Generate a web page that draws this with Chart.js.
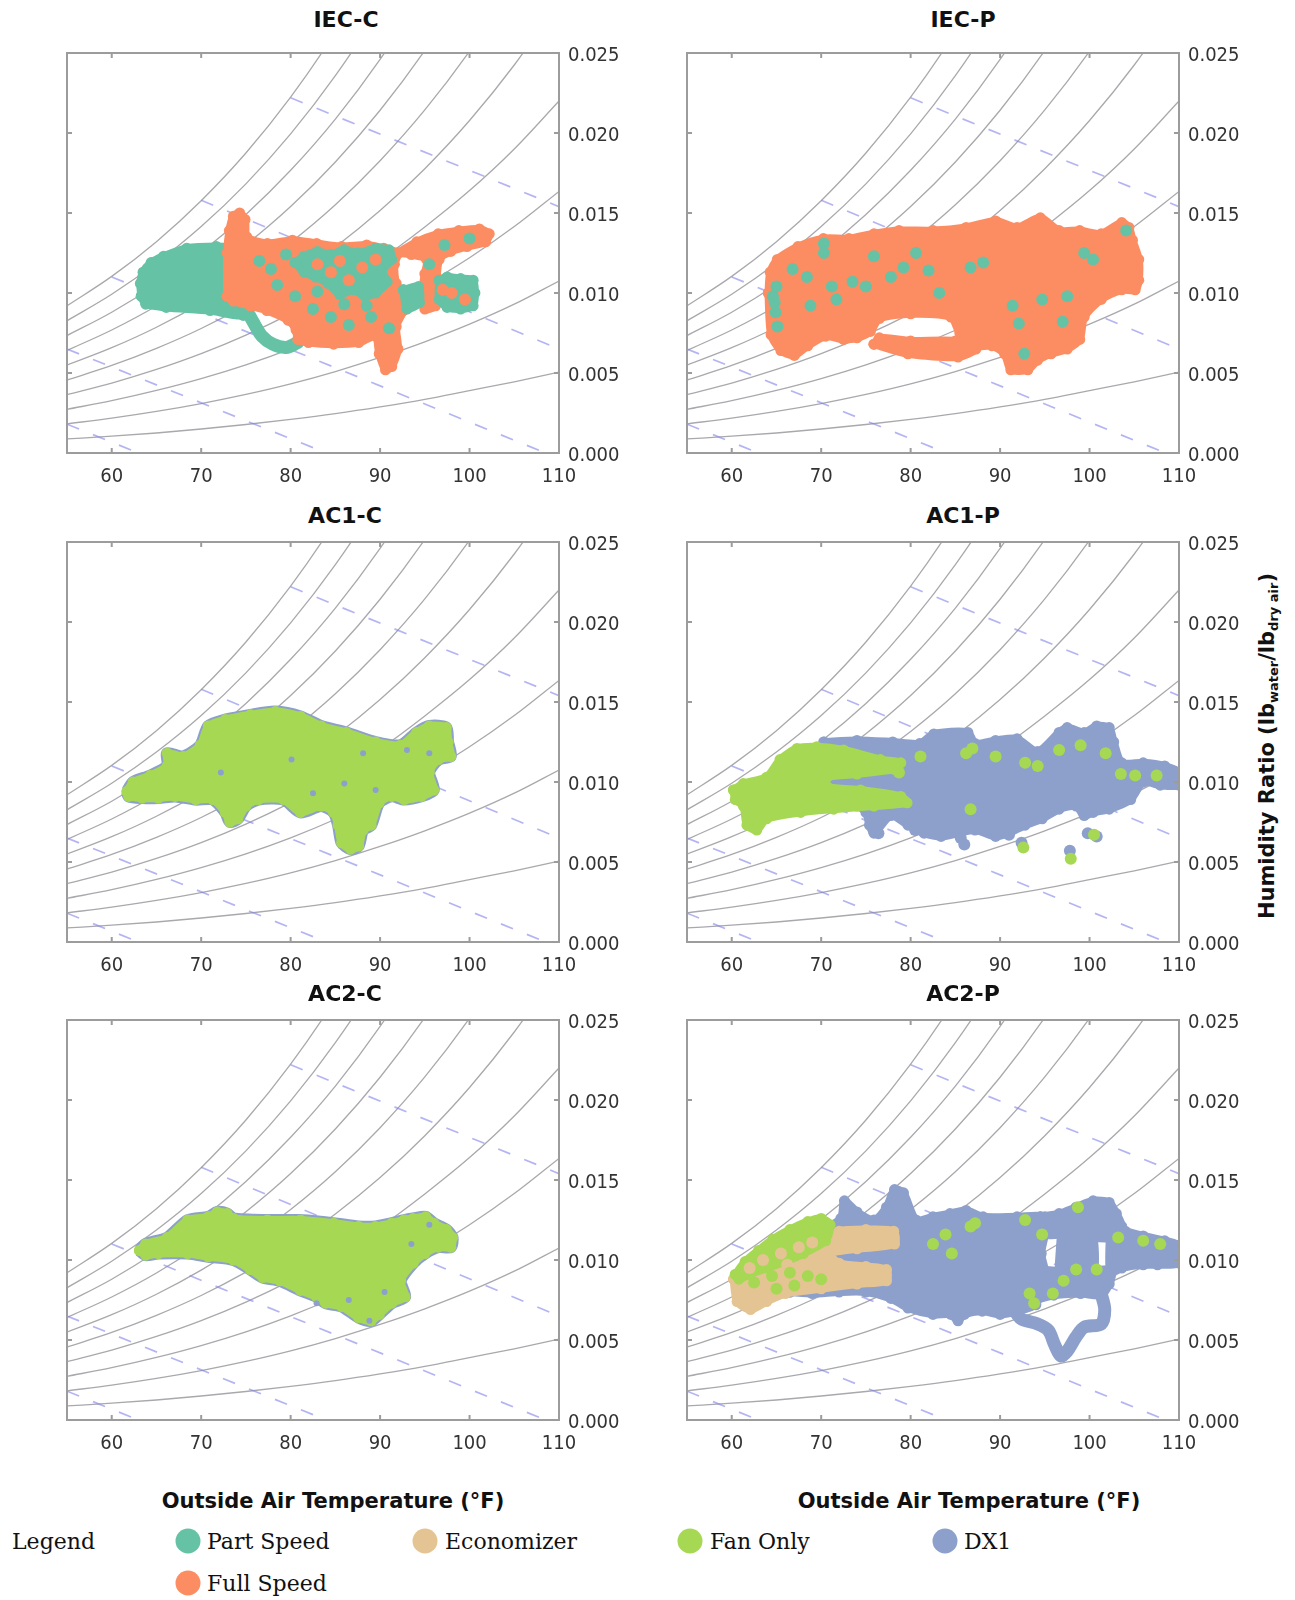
<!DOCTYPE html>
<html>
<head>
<meta charset="utf-8">
<script src="https://cdn.jsdelivr.net/npm/chart.js@4.4.0/dist/chart.umd.min.js"></script>
<style>
body { margin: 0; background: #fff; width: 1295px; height: 1600px; position: relative; overflow: hidden; }
.box { position: absolute; }
.t { position: absolute; white-space: nowrap; transform: translate(-50%, -50%); color: #111; }
.ptitle { font: bold 22px 'DejaVu Sans', sans-serif; }
.xtitle { font: bold 21px 'DejaVu Sans', sans-serif; }
.ytitle { font: bold 21px 'DejaVu Sans', sans-serif; transform: translate(-50%, -50%) rotate(-90deg); }
.ytitle sub { font-size: 13px; vertical-align: -4px; }
.leg { position: absolute; white-space: nowrap; font: 22px 'DejaVu Serif', serif; color: #111; transform: translateY(-50%); }
.dot { position: absolute; width: 25px; height: 25px; border-radius: 50%; transform: translate(-50%, -50%); }
</style>
</head>
<body>

<script>
// axes
const xTicks = [60, 70, 80, 90, 100, 110];
const yTicks = [0, 0.005, 0.010, 0.015, 0.020, 0.025];

// relative humidity curves (10% .. 100%), humidity ratio at these temperatures
const tempGrid = [55, 60, 65, 70, 75, 80, 85, 90, 95, 100, 105, 110];
const rh100 = [0.00920, 0.01104, 0.01321, 0.01577, 0.01875, 0.02224, 0.02631, 0.03105, 0.03658, 0.04300, 0.05047, 0.05916];
const rh90 = [0.00826, 0.00992, 0.01187, 0.01415, 0.01682, 0.01994, 0.02358, 0.02781, 0.03273, 0.03844, 0.04506, 0.05274];
const rh80 = [0.00734, 0.00880, 0.01053, 0.01255, 0.01491, 0.01767, 0.02087, 0.02460, 0.02892, 0.03393, 0.03973, 0.04644];
const rh70 = [0.00641, 0.00769, 0.00919, 0.01095, 0.01301, 0.01540, 0.01819, 0.02142, 0.02516, 0.02949, 0.03449, 0.04026];
const rh60 = [0.00549, 0.00658, 0.00786, 0.00937, 0.01112, 0.01316, 0.01552, 0.01827, 0.02144, 0.02511, 0.02933, 0.03419];
const rh50 = [0.00456, 0.00547, 0.00654, 0.00778, 0.00924, 0.01092, 0.01288, 0.01515, 0.01777, 0.02078, 0.02425, 0.02824];
const rh40 = [0.00365, 0.00437, 0.00522, 0.00621, 0.00737, 0.00871, 0.01026, 0.01206, 0.01413, 0.01640, 0.01900, 0.02200];
const rh30 = [0.00273, 0.00327, 0.00391, 0.00465, 0.00551, 0.00651, 0.00767, 0.00900, 0.01050, 0.01220, 0.01415, 0.01635];
const rh20 = [0.00182, 0.00218, 0.00260, 0.00309, 0.00366, 0.00432, 0.00509, 0.00597, 0.00695, 0.00805, 0.00930, 0.01075];
const rh10 = [0.00088, 0.00105, 0.00125, 0.00150, 0.00178, 0.00210, 0.00246, 0.00288, 0.00335, 0.00390, 0.00445, 0.00505];

// wet bulb lines (dashed)
const wb80 = [[80.0, 0.0222], [110, 0.0154]];
const wb70 = [[70.0, 0.0158], [110, 0.0065]];
const wb60 = [[60.0, 0.0110], [108.5, 0.0]];
const wb50 = [[55.0, 0.0065], [84.0, 0.0]];
const wb40 = [[55.0, 0.0018], [63.0, 0.0]];

// IEC-C
const iecC_partBody = [[63.3, 0.0098], [63.2, 0.0106], [63.5, 0.0113], [64.4, 0.0119], [65.8, 0.0123], [68.4, 0.0128], [71.7, 0.0129], [74.5, 0.0128], [76.0, 0.0126], [76.3, 0.0110], [76.0, 0.0095], [74.7, 0.0086], [71.0, 0.0089], [66.1, 0.0091], [63.8, 0.0093]];
const iecC_partTail = [[75.2, 0.0088], [76.0, 0.0080], [76.8, 0.0073], [78.0, 0.0068], [79.5, 0.0066], [80.8, 0.0069]];
const iecC_fullMain = [[72.9, 0.0098], [72.9, 0.0125], [73.15, 0.0139], [73.6, 0.0148], [74.3, 0.0150], [74.9, 0.0146], [75.1, 0.0135], [77.4, 0.0131], [80.2, 0.0133], [82.9, 0.0131], [85.7, 0.0129], [88.5, 0.0130], [90.4, 0.0128], [92.0, 0.0125], [91.6, 0.0118], [91.8, 0.0106], [92.6, 0.0098], [92.6, 0.0089], [91.8, 0.0079], [92.0, 0.0065], [91.3, 0.0054], [90.6, 0.0052], [89.9, 0.0062], [89.5, 0.0073], [87.6, 0.0069], [84.8, 0.0068], [82.0, 0.0069], [80.8, 0.0071], [80.6, 0.0077], [79.7, 0.0083], [77.35, 0.0089], [75.5, 0.0092], [73.6, 0.0095]];
const iecC_fullArm = [[92.0, 0.0125], [94.1, 0.0132], [96.5, 0.0137], [98.8, 0.0139], [101.1, 0.0140], [102.2, 0.0137], [101.8, 0.0132], [99.7, 0.0129], [97.9, 0.0126], [96.6, 0.0121], [96.3, 0.0105], [96.2, 0.0092], [95.0, 0.0090], [94.6, 0.0097], [95.0, 0.0112], [95.2, 0.0121], [93.5, 0.0124]];
const iecC_partMid = [[80.5, 0.0119], [81.5, 0.0123], [83.0, 0.0126], [84.5, 0.0124], [86.0, 0.0127], [87.5, 0.0125], [89.5, 0.0128], [91.0, 0.0127], [91.3, 0.0121], [90.2, 0.0114], [90.8, 0.0107], [89.5, 0.0100], [88.3, 0.0098], [87.0, 0.0102], [85.5, 0.0099], [84.2, 0.0106], [82.8, 0.0110], [81.5, 0.0113]];
const iecC_partRight = [[96.6, 0.0108], [97.5, 0.0110], [99.0, 0.0109], [100.4, 0.0108], [100.6, 0.0100], [100.4, 0.0092], [99.0, 0.0090], [97.5, 0.0091], [96.6, 0.0096]];
const iecC_partRight2 = [[92.6, 0.0102], [94.3, 0.0104], [94.4, 0.0094], [93.0, 0.0090]];
const iecC_partDots = [[76.5, 0.0120], [77.8, 0.0115], [79.5, 0.0124], [78.5, 0.0105], [80.5, 0.0098], [82.5, 0.0090], [84.5, 0.0085], [86.5, 0.0080], [88.5, 0.0092], [83.0, 0.0101], [86.0, 0.0093], [89.0, 0.0085], [91.0, 0.0078], [97.2, 0.0130], [100.0, 0.0134], [95.5, 0.0118]];
const iecC_fullDots = [[83.0, 0.0118], [85.5, 0.0120], [88.0, 0.0116], [86.5, 0.0108], [89.5, 0.0121], [84.5, 0.0113], [98.0, 0.0100], [99.5, 0.0096], [97.0, 0.0102]];

// IEC-P
const iecP_fullMain = [[64.1, 0.0100], [64.3, 0.0113], [65.1, 0.0121], [67.4, 0.0129], [70.25, 0.0134], [73.1, 0.0134], [75.9, 0.0137], [78.7, 0.0139], [82.5, 0.0139], [86.2, 0.0141], [89.5, 0.0145], [91.9, 0.0141], [94.5, 0.0147], [96.6, 0.0139], [98.9, 0.0139], [101.3, 0.0137], [103.6, 0.0144], [104.4, 0.0141], [104.8, 0.0133], [105.5, 0.0121], [105.5, 0.0108], [105.1, 0.0102], [103.6, 0.0102], [101.3, 0.0096], [99.4, 0.0085], [98.9, 0.0071], [97.5, 0.0065], [95.7, 0.0062], [94.2, 0.0058], [93.1, 0.0052], [91.2, 0.0052], [90.5, 0.0062], [89.1, 0.0067], [87.2, 0.0067], [85.5, 0.0075], [84.5, 0.0085], [80.0, 0.0087], [76.5, 0.0084], [75.5, 0.0076], [74.0, 0.0072], [72.5, 0.0071], [70.5, 0.0073], [68.5, 0.0067], [67.0, 0.0061], [65.5, 0.0064], [64.4, 0.0074]];
const iecP_fullLow = [[75.9, 0.0068], [79.7, 0.0062], [85.3, 0.0060], [87.3, 0.0065], [85.0, 0.0070], [80.0, 0.0070], [76.5, 0.0072]];
const iecP_partDots = [[64.6, 0.0098], [64.8, 0.0094], [65.0, 0.0104], [64.9, 0.0088], [65.1, 0.0079], [70.3, 0.0125], [70.3, 0.0131], [68.4, 0.0110], [71.2, 0.0104], [71.7, 0.0096], [68.8, 0.0092], [75.0, 0.0104], [75.9, 0.0123], [77.8, 0.0110], [79.2, 0.0116], [80.6, 0.0125], [82.0, 0.0114], [83.2, 0.0100], [86.7, 0.0116], [88.1, 0.0119], [91.4, 0.0092], [92.1, 0.0081], [94.7, 0.0096], [97.5, 0.0098], [97.0, 0.0082], [99.4, 0.0125], [100.4, 0.0121], [104.1, 0.0139], [92.7, 0.0062], [73.5, 0.0107], [66.8, 0.0115]];

// AC1-C
const ac1C_fanBody = [[61.7, 0.0094], [62.4, 0.0100], [64.3, 0.0104], [66.2, 0.0110], [66.2, 0.0118], [68.0, 0.0116], [69.9, 0.0123], [70.8, 0.0135], [72.7, 0.0139], [75.5, 0.0142], [78.3, 0.0144], [81.1, 0.0141], [83.4, 0.0135], [86.2, 0.0131], [89.5, 0.0125], [92.3, 0.0123], [94.1, 0.0131], [95.5, 0.0135], [97.4, 0.0134], [97.6, 0.0125], [97.9, 0.0116], [96.5, 0.0114], [95.5, 0.0106], [96.0, 0.0095], [94.6, 0.0091], [92.7, 0.0089], [91.3, 0.0091], [89.9, 0.0087], [89.0, 0.0073], [88.1, 0.0070], [87.6, 0.0060], [86.7, 0.0058], [85.7, 0.0062], [85.3, 0.0073], [84.8, 0.0081], [83.4, 0.0085], [81.1, 0.0081], [79.2, 0.0089], [76.4, 0.0089], [75.0, 0.0085], [74.1, 0.0077], [73.2, 0.0075], [72.7, 0.0081], [71.3, 0.0089], [69.4, 0.0089], [67.1, 0.0091], [65.2, 0.0090], [63.4, 0.0090], [61.9, 0.0091]];
const ac1C_dxDots = [[72.2, 0.0106], [80.1, 0.0114], [88.1, 0.0118], [82.5, 0.0093], [89.5, 0.0095], [93.0, 0.0120], [95.5, 0.0118], [86.0, 0.0099]];

// AC1-P
const ac1P_dxBody = [[70.3, 0.0125], [74.0, 0.0126], [78.0, 0.0125], [81.0, 0.0124], [82.6, 0.0130], [86.4, 0.0131], [87.2, 0.0124], [89.5, 0.0126], [91.9, 0.0127], [94.2, 0.0119], [96.6, 0.0131], [97.5, 0.0134], [99.4, 0.0131], [100.8, 0.0135], [102.2, 0.0134], [102.7, 0.0125], [103.6, 0.0112], [106.0, 0.0112], [108.4, 0.0110], [110.0, 0.0106], [110.0, 0.0098], [107.9, 0.0098], [106.0, 0.0100], [104.6, 0.0089], [102.2, 0.0083], [100.4, 0.0081], [99.4, 0.0079], [98.5, 0.0085], [96.6, 0.0083], [94.7, 0.0077], [92.8, 0.0073], [90.9, 0.0068], [89.5, 0.0066], [87.2, 0.0070], [85.3, 0.0068], [83.4, 0.0066], [81.5, 0.0068], [79.7, 0.0073], [77.8, 0.0079], [75.9, 0.0068], [75.4, 0.0073], [75.0, 0.0081], [74.0, 0.0085], [71.7, 0.0085], [70.3, 0.0089]];
const ac1P_dxLobes = [[75.6, 0.0073], [76.4, 0.0068], [80.5, 0.0070], [85.6, 0.0065], [86.0, 0.0061], [92.4, 0.0062], [97.8, 0.0057], [99.8, 0.0068], [100.8, 0.0066], [89.5, 0.0069], [91.0, 0.0067]];
const ac1P_fanBody = [[60.2, 0.0095], [61.3, 0.0099], [63.9, 0.0103], [65.4, 0.0114], [67.3, 0.0121], [69.5, 0.0122], [72.5, 0.0120], [76.6, 0.0114], [78.9, 0.0112], [78.1, 0.0108], [74.0, 0.0105], [70.7, 0.0103], [70.7, 0.0097], [74.4, 0.0095], [78.9, 0.0091], [79.6, 0.0087], [75.9, 0.0085], [71.4, 0.0083], [67.7, 0.0081], [63.9, 0.0077], [62.8, 0.0070], [61.7, 0.0073], [61.3, 0.0085], [60.4, 0.0089]];
const ac1P_fanDots = [[81.1, 0.0116], [86.2, 0.0118], [86.9, 0.0121], [89.5, 0.0116], [92.8, 0.0112], [96.6, 0.0120], [101.8, 0.0118], [105.1, 0.0104], [86.7, 0.0083], [99.0, 0.0123], [78.7, 0.0106], [94.2, 0.0110], [103.5, 0.0105], [107.5, 0.0104], [92.6, 0.0059], [97.9, 0.0052], [100.5, 0.0067]];

// AC2-C
const ac2C_fanBody = [[63.1, 0.0106], [63.8, 0.0110], [66.2, 0.0114], [68.5, 0.0125], [70.8, 0.0127], [71.8, 0.0130], [72.9, 0.0129], [73.6, 0.0126], [77.4, 0.0125], [81.1, 0.0125], [84.8, 0.0123], [87.6, 0.0121], [89.5, 0.0121], [91.3, 0.0123], [92.7, 0.0125], [93.7, 0.0126], [95.1, 0.0127], [96.0, 0.0123], [97.4, 0.0119], [98.1, 0.0114], [97.9, 0.0108], [96.5, 0.0108], [95.0, 0.0104], [93.7, 0.0098], [92.3, 0.0087], [92.8, 0.0077], [91.3, 0.0073], [89.9, 0.0066], [89.0, 0.0062], [87.6, 0.0064], [85.7, 0.0071], [83.9, 0.0073], [82.9, 0.0077], [81.1, 0.0081], [78.8, 0.0087], [76.9, 0.0089], [75.5, 0.0094], [73.6, 0.0100], [70.8, 0.0102], [68.5, 0.0104], [65.2, 0.0104], [63.8, 0.0103]];
const ac2C_dxDots = [[82.9, 0.0073], [88.8, 0.0062], [86.5, 0.0075], [90.5, 0.0080], [93.5, 0.0110], [95.5, 0.0122]];

// AC2-P
const ac2P_dxLeft = [[66.5, 0.0080], [66.5, 0.0095], [68.0, 0.0110], [70.0, 0.0118], [72.2, 0.0126], [72.6, 0.0137], [74.0, 0.0130], [75.9, 0.0125], [77.3, 0.0133], [78.2, 0.0144], [79.2, 0.0142], [80.6, 0.0125], [82.5, 0.0127], [84.4, 0.0129], [86.2, 0.0131], [88.1, 0.0127], [91.9, 0.0127], [95.0, 0.0127], [95.0, 0.0116], [94.6, 0.0104], [95.0, 0.0093], [94.5, 0.0080], [94.0, 0.0072], [92.0, 0.0068], [90.0, 0.0066], [88.0, 0.0068], [86.0, 0.0066], [85.3, 0.0062], [84.5, 0.0066], [82.5, 0.0066], [79.7, 0.0070], [77.8, 0.0076], [75.0, 0.0080], [72.0, 0.0080], [69.0, 0.0079]];
const ac2P_dxTop = [[94.5, 0.0127], [96.6, 0.0129], [98.5, 0.0133], [100.4, 0.0137], [102.2, 0.0136], [103.0, 0.0129], [103.6, 0.0121], [102.6, 0.0114], [100.0, 0.0114], [97.5, 0.0116], [95.0, 0.0116]];
const ac2P_dxBar = [[96.8, 0.0118], [100.2, 0.0118], [100.2, 0.0084], [96.8, 0.0084]];
const ac2P_dxRight = [[102.3, 0.0121], [104.0, 0.0118], [106.0, 0.0115], [108.4, 0.0112], [110.0, 0.0109], [110.0, 0.0098], [107.6, 0.0097], [106.0, 0.0097], [103.6, 0.0095], [102.3, 0.0092]];
const ac2P_dxBottom = [[94.5, 0.0094], [97.0, 0.0093], [100.0, 0.0093], [102.5, 0.0094], [102.2, 0.0085], [101.3, 0.0078], [99.0, 0.0079], [96.0, 0.0078], [94.0, 0.0076]];
const ac2P_dxLoop = [[101.3, 0.0079], [101.7, 0.0069], [101.3, 0.0060], [99.4, 0.0058], [98.5, 0.0052], [97.5, 0.0043], [96.8, 0.0040], [96.1, 0.0047], [95.4, 0.0056], [94.2, 0.0060], [92.4, 0.0063], [91.9, 0.0066]];
const ac2P_ecoBody = [[60.2, 0.0088], [61.0, 0.0091], [63.0, 0.0094], [65.5, 0.0098], [68.0, 0.0103], [70.0, 0.0111], [72.0, 0.0118], [75.0, 0.0119], [78.1, 0.0118], [78.2, 0.0110], [74.0, 0.0107], [71.0, 0.0104], [72.0, 0.0098], [75.0, 0.0096], [77.3, 0.0094], [77.3, 0.0087], [74.0, 0.0085], [70.0, 0.0082], [66.0, 0.0079], [63.9, 0.0074], [62.1, 0.0069], [60.6, 0.0074]];
const ac2P_fanBody = [[60.4, 0.0091], [61.5, 0.0099], [63.0, 0.0106], [64.6, 0.0113], [66.5, 0.0119], [68.5, 0.0124], [70.0, 0.0126], [71.0, 0.0122], [70.5, 0.0112], [68.0, 0.0104], [66.0, 0.0099], [64.0, 0.0095], [62.0, 0.0091], [60.8, 0.0088]];
const ac2P_ecoDots = [[63.5, 0.0100], [65.5, 0.0104], [67.5, 0.0108], [69.0, 0.0111], [66.2, 0.0097], [62.0, 0.0095]];
const ac2P_fanDots = [[62.5, 0.0086], [64.5, 0.0090], [66.5, 0.0092], [68.5, 0.0090], [70.0, 0.0088], [67.0, 0.0084], [65.0, 0.0082], [86.7, 0.0121], [87.2, 0.0123], [82.5, 0.0110], [84.6, 0.0104], [92.8, 0.0125], [94.7, 0.0116], [98.5, 0.0094], [97.1, 0.0087], [95.9, 0.0079], [93.3, 0.0079], [93.8, 0.0073], [103.2, 0.0114], [106.0, 0.0112], [107.9, 0.0110], [100.8, 0.0094], [98.7, 0.0133], [83.9, 0.0116]];

const COLORS = { part: '#66c2a5', full: '#fc8d62', eco: '#e5c494', fan: '#a6d854', dx1: '#8da0cb' };

const panels = [
    { name: 'IEC-C', left: 67, top: 53, tx: 346, ty: 19, layers: [
        ['blob', 'part', iecC_partBody], ['band', 'part', iecC_partTail],
        ['blob', 'full', iecC_fullMain], ['blob', 'full', iecC_fullArm],
        ['blob', 'part', iecC_partMid], ['blob', 'part', iecC_partRight], ['blob', 'part', iecC_partRight2],
        ['dots', 'full', iecC_fullDots], ['dots', 'part', iecC_partDots]] },
    { name: 'IEC-P', left: 687, top: 53, tx: 963, ty: 19, layers: [
        ['blob', 'full', iecP_fullMain], ['blob', 'full', iecP_fullLow], ['dots', 'part', iecP_partDots]] },
    { name: 'AC1-C', left: 67, top: 542, tx: 345, ty: 515, layers: [
        ['rim', 'dx1', ac1C_fanBody], ['blob', 'fan', ac1C_fanBody], ['speck', 'dx1', ac1C_dxDots]] },
    { name: 'AC1-P', left: 687, top: 542, tx: 963, ty: 515, layers: [
        ['blob', 'dx1', ac1P_dxBody], ['dots', 'dx1', ac1P_dxLobes],
        ['blob', 'fan', ac1P_fanBody], ['dots', 'fan', ac1P_fanDots]] },
    { name: 'AC2-C', left: 67, top: 1020, tx: 345, ty: 993, layers: [
        ['rim', 'dx1', ac2C_fanBody], ['blob', 'fan', ac2C_fanBody], ['speck', 'dx1', ac2C_dxDots]] },
    { name: 'AC2-P', left: 687, top: 1020, tx: 963, ty: 993, layers: [
        ['blob', 'dx1', ac2P_dxLeft], ['blob', 'dx1', ac2P_dxTop], ['blob', 'dx1', ac2P_dxBar],
        ['blob', 'dx1', ac2P_dxRight], ['blob', 'dx1', ac2P_dxBottom], ['band', 'dx1', ac2P_dxLoop],
        ['blob', 'eco', ac2P_ecoBody], ['blob', 'fan', ac2P_fanBody],
        ['dots', 'eco', ac2P_ecoDots], ['dots', 'fan', ac2P_fanDots]] }
];

const PLOT_W = 492, PLOT_H = 400, PAD = 14, YAX_W = 75, XAX_H = 40;
const TICK_FONT = "'DejaVu Sans Condensed', 'DejaVu Sans', sans-serif";

const frameBox = {
    id: 'frameBox',
    afterDatasetsDraw(chart, args, options) {
        const { ctx, chartArea: { left, top, right, bottom }, scales: { x, y } } = chart;
        ctx.save();
        ctx.strokeStyle = options.color;
        ctx.lineWidth = options.width;
        ctx.strokeRect(left, top, right - left, bottom - top);
        ctx.beginPath();
        xTicks.forEach(v => {
            const px = x.getPixelForValue(v);
            ctx.moveTo(px, bottom); ctx.lineTo(px, bottom - options.tick);
            ctx.moveTo(px, top); ctx.lineTo(px, top + options.tick);
        });
        yTicks.forEach(v => {
            const py = y.getPixelForValue(v);
            ctx.moveTo(left, py); ctx.lineTo(left + options.tick, py);
            ctx.moveTo(right, py); ctx.lineTo(right - options.tick, py);
        });
        ctx.stroke();
        ctx.restore();
    }
};

const toXY = pts => pts.map(p => ({ x: p[0], y: p[1] }));

function backgroundSets() {
    const sets = [];
    [rh10, rh20, rh30, rh40, rh50, rh60, rh70, rh80, rh90, rh100].forEach(curve => {
        sets.push({
            data: curve.map((w, i) => ({ x: tempGrid[i], y: w })),
            borderColor: '#a9a9ad', borderWidth: 1.3, pointRadius: 0,
            cubicInterpolationMode: 'monotone', fill: false, clip: 0
        });
    });
    [wb40, wb50, wb60, wb70, wb80].forEach(line => {
        sets.push({
            data: toXY(line), borderColor: 'rgba(130,130,235,0.6)', borderWidth: 1.7,
            borderDash: [13, 15], pointRadius: 0, fill: false, clip: 0
        });
    });
    return sets;
}

function layerSet(kind, key, pts) {
    const c = COLORS[key];
    if (kind === 'dots' || kind === 'speck') {
        return { data: toXY(pts), showLine: false, pointRadius: kind === 'dots' ? 6 : 3,
                 pointBackgroundColor: c, pointBorderWidth: 0, clip: 0 };
    }
    if (kind === 'band') {
        return { data: toXY(pts), borderColor: c, borderWidth: 13, borderCapStyle: 'round',
                 borderJoinStyle: 'round', tension: 0.3, pointRadius: 0, fill: false, clip: 0 };
    }
    const closed = toXY(pts.concat([pts[0]]));
    return { data: closed, fill: 'shape', backgroundColor: c, borderColor: c,
             borderWidth: kind === 'rim' ? 12 : 8, borderJoinStyle: 'round', tension: 0.25,
             pointRadius: kind === 'rim' ? 0 : 5.5, pointBackgroundColor: c, pointBorderWidth: 0, clip: 0 };
}

function addText(cls, x, y, html) {
    const d = document.createElement('div');
    d.className = cls;
    d.style.left = x + 'px';
    d.style.top = y + 'px';
    d.innerHTML = html;
    document.body.appendChild(d);
    return d;
}

panels.forEach(p => {
    addText('t ptitle', p.tx, p.ty, p.name);
    const box = document.createElement('div');
    box.className = 'box';
    box.style.left = (p.left - PAD) + 'px';
    box.style.top = (p.top - PAD) + 'px';
    const cv = document.createElement('canvas');
    cv.width = PAD + PLOT_W + YAX_W;
    cv.height = PAD + PLOT_H + XAX_H;
    box.appendChild(cv);
    document.body.appendChild(box);

    const datasets = backgroundSets().concat(p.layers.map(l => layerSet(l[0], l[1], l[2])));
    new Chart(cv, {
        type: 'line',
        data: { datasets: datasets.reverse() },
        options: {
            responsive: false,
            animation: false,
            events: [],
            layout: { padding: { left: PAD, top: PAD, right: 0, bottom: 0 } },
            scales: {
                x: {
                    type: 'linear', min: 55, max: 110,
                    afterBuildTicks: s => { s.ticks = xTicks.map(v => ({ value: v })); },
                    afterFit: s => { s.height = XAX_H; s.paddingLeft = 0; s.paddingRight = 0; },
                    grid: { display: false, drawTicks: false }, border: { display: false },
                    ticks: { padding: 12, maxRotation: 0, color: '#333', font: { family: TICK_FONT, size: 20 } }
                },
                y: {
                    type: 'linear', position: 'right', min: 0, max: 0.025,
                    afterBuildTicks: s => { s.ticks = yTicks.map(v => ({ value: v })); },
                    afterFit: s => { s.width = YAX_W; s.paddingTop = 0; s.paddingBottom = 0; },
                    grid: { display: false, drawTicks: false }, border: { display: false },
                    ticks: { padding: 9, labelOffset: 3, color: '#333', font: { family: TICK_FONT, size: 20 },
                             callback: v => v.toFixed(3) }
                }
            },
            plugins: {
                legend: { display: false },
                tooltip: { enabled: false },
                frameBox: { color: '#9c9c9c', width: 2, tick: 5 }
            }
        },
        plugins: [frameBox]
    });
});

addText('t xtitle', 333, 1501, 'Outside Air Temperature (°F)');
addText('t xtitle', 969, 1501, 'Outside Air Temperature (°F)');
addText('t ytitle', 1268, 746, 'Humidity Ratio (lb<sub>water</sub>/lb<sub>dry air</sub>)');

// legend
const legendItems = [
    ['Part Speed', COLORS.part, 188, 207, 1541],
    ['Economizer', COLORS.eco, 425, 445, 1541],
    ['Fan Only', COLORS.fan, 690, 710, 1541],
    ['DX1', COLORS.dx1, 945, 964, 1541],
    ['Full Speed', COLORS.full, 188, 207, 1583]
];
addText('leg', 12, 1541, 'Legend');
legendItems.forEach(it => {
    const d = addText('dot', it[2], it[4], '');
    d.style.background = it[1];
    addText('leg', it[3], it[4], it[0]);
});
</script>
</body>
</html>
